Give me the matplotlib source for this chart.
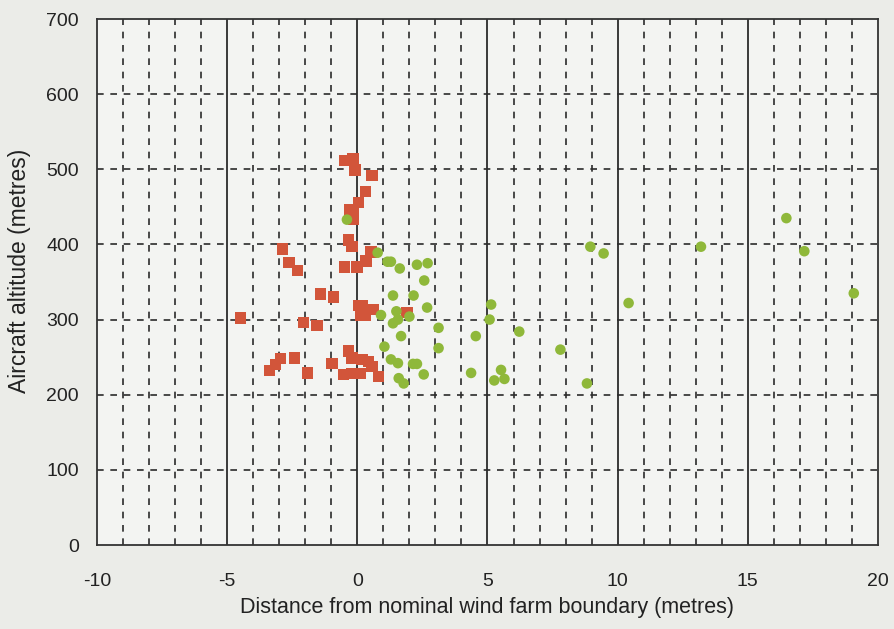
import matplotlib
matplotlib.use("Agg")
import matplotlib.pyplot as plt
import numpy as np

plt.rcParams['font.family'] = ['Liberation Sans', 'DejaVu Sans']
plt.rcParams['axes.unicode_minus'] = False

# Red squares
red_x = [-0.50, -0.17, -0.09, 0.56, 0.30, 0.05, -0.30, -0.14, -0.14, -0.33, -0.20,
         0.53, 0.33, -0.01, -0.49, -2.87, -2.62, -2.29, -1.42, -0.91, 0.05, 0.20,
         0.60, 0.14, 0.30, 1.91, -4.49, -2.06, -1.55, -0.33, -0.20, 0.18, 0.43,
         0.56, -2.96, -3.15, -3.37, -2.42, -1.91, -0.97, -0.53, -0.20, 0.12, 0.82]
red_y = [512, 514, 499, 492, 470, 456, 446, 446, 434, 406, 397,
         390, 378, 370, 370, 394, 376, 365, 334, 330, 319, 318,
         313, 306, 306, 309, 302, 296, 292, 258, 249, 247, 244,
         238, 248, 240, 232, 249, 229, 242, 227, 228, 228, 224]

# Green circles
green_x = [-0.40, 0.78, 1.16, 1.29, 1.63, 2.29, 2.70, 2.57, 1.37, 2.16, 2.68, 1.50,
           0.91, 1.56, 1.37, 2.00, 3.12, 1.68, 1.04, 3.12, 1.29, 1.56, 2.14, 2.29,
           2.55, 1.59, 1.78, 4.37, 4.55, 5.14, 5.08, 6.22, 5.52, 5.26, 5.65, 7.80,
           8.82, 8.95, 9.46, 10.42, 13.20, 16.48, 17.17, 19.07]
green_y = [433, 389, 377, 377, 368, 373, 375, 352, 332, 332, 316, 311,
           306, 300, 295, 304, 289, 278, 264, 262, 247, 242, 241, 241,
           227, 222, 215, 229, 278, 320, 300, 284, 233, 219, 221, 260,
           215, 397, 388, 322, 397, 435, 391, 335]

x_ticks = [-10, -5, 0, 5, 10, 15, 20]
y_ticks = [0, 100, 200, 300, 400, 500, 600, 700]

fig = plt.figure(figsize=(8.95, 6.29), dpi=100)
fig.patch.set_facecolor('#EBECE8')
ax = fig.add_axes([97/895, 1 - 545/629, (878 - 97)/895, (545 - 19)/629])
ax.set_facecolor('#F3F4F2')

ax.set_xlim(-10, 20)
ax.set_ylim(0, 700)

grid_col = '#2b2b2b'
for v in range(-9, 20):
    if v % 5 != 0:
        ax.axvline(v, color=grid_col, lw=1.2, linestyle=(0, (4, 4)), zorder=1)
for v in [-5, 0, 5, 10, 15]:
    ax.axvline(v, color=grid_col, lw=1.3, zorder=1)
for h in y_ticks[1:-1]:
    ax.axhline(h, color=grid_col, lw=1.2, linestyle=(0, (4, 4)), zorder=1)

ax.scatter(red_x, red_y, marker='s', s=66, color='#D2553A', edgecolors='none', zorder=3)
ax.scatter(green_x, green_y, marker='o', s=58, color='#8FB83A', edgecolors='none', zorder=3)

ax.set_xticks(x_ticks)
ax.set_yticks(y_ticks)
ax.tick_params(axis='both', length=0, labelsize=14, colors='#222222')
ax.tick_params(axis='x', pad=20)
ax.tick_params(axis='y', pad=13)
for s in ax.spines.values():
    s.set_color('#333333')
    s.set_linewidth(1.3)

ax.set_xlabel('Distance from nominal wind farm boundary (metres)', fontsize=15.5, color='#222222', labelpad=5)
ax.set_ylabel('Aircraft altitude (metres)', fontsize=16.5, color='#222222')
ax.yaxis.set_label_coords(-0.084, 0.521)

fig.savefig('out.png', dpi=100, facecolor=fig.get_facecolor())
